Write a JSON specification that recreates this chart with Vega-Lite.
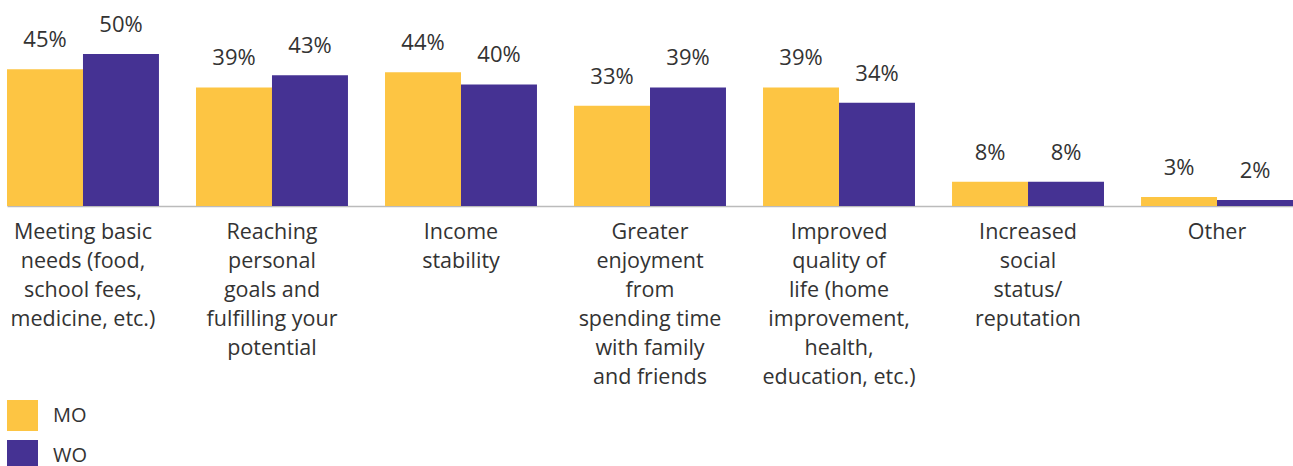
{
  "$schema": "https://vega.github.io/schema/vega-lite/v6.json",
  "autosize": {"type": "none"},
  "width": 1286,
  "height": 152,
  "padding": {"left": 7, "top": 54, "right": 0, "bottom": 260},
  "background": "white",
  "config": {
    "view": {"stroke": null},
    "font": "Open Sans",
    "text": {"font": "Open Sans"}
  },
  "data": {
    "values": [
      {"category": "Meeting basic|needs (food,|school fees,|medicine, etc.)", "group": "MO", "value": 0.45},
      {"category": "Meeting basic|needs (food,|school fees,|medicine, etc.)", "group": "WO", "value": 0.50},
      {"category": "Reaching|personal|goals and|fulfilling your|potential", "group": "MO", "value": 0.39},
      {"category": "Reaching|personal|goals and|fulfilling your|potential", "group": "WO", "value": 0.43},
      {"category": "Income|stability", "group": "MO", "value": 0.44},
      {"category": "Income|stability", "group": "WO", "value": 0.40},
      {"category": "Greater|enjoyment|from|spending time|with family|and friends", "group": "MO", "value": 0.33},
      {"category": "Greater|enjoyment|from|spending time|with family|and friends", "group": "WO", "value": 0.39},
      {"category": "Improved|quality of|life (home|improvement,|health,|education, etc.)", "group": "MO", "value": 0.39},
      {"category": "Improved|quality of|life (home|improvement,|health,|education, etc.)", "group": "WO", "value": 0.34},
      {"category": "Increased|social|status/|reputation", "group": "MO", "value": 0.08},
      {"category": "Increased|social|status/|reputation", "group": "WO", "value": 0.08},
      {"category": "Other", "group": "MO", "value": 0.03},
      {"category": "Other", "group": "WO", "value": 0.02}
    ]
  },
  "encoding": {
    "x": {
      "field": "category",
      "type": "nominal",
      "sort": null,
      "scale": {"paddingInner": 0.196, "paddingOuter": 0},
      "axis": {
        "title": null,
        "labelExpr": "split(datum.value, '|')",
        "labelAngle": 0,
        "labelFontSize": 21.5,
        "labelLineHeight": 29,
        "labelColor": "#333333",
        "labelPadding": 15,
        "labelBaseline": "top",
        "labelLimit": 0,
        "ticks": false,
        "domainColor": "#bbbbbb",
        "domainWidth": 1.5,
        "labelFont": "Open Sans"
      }
    },
    "xOffset": {"field": "group", "type": "nominal", "sort": ["MO", "WO"]},
    "y": {
      "field": "value",
      "type": "quantitative",
      "scale": {"domain": [0, 0.5]},
      "axis": null
    }
  },
  "layer": [
    {
      "mark": {"type": "bar"},
      "encoding": {
        "color": {
          "field": "group",
          "type": "nominal",
          "scale": {"domain": ["MO", "WO"], "range": ["#FDC543", "#453293"]},
          "legend": {
            "title": null,
            "orient": "none",
            "legendX": 0,
            "legendY": 346,
            "padding": 0,
            "symbolType": "square",
            "symbolSize": 961,
            "symbolStrokeWidth": 0,
            "labelFontSize": 20,
            "labelColor": "#333333",
            "labelOffset": 15,
            "rowPadding": 9,
            "labelFont": "Open Sans"
          }
        }
      }
    },
    {
      "mark": {"type": "text", "baseline": "alphabetic", "dy": -22, "fontSize": 22, "color": "#333333"},
      "encoding": {
        "text": {"field": "value", "type": "quantitative", "format": ".0%"},
        "detail": {"field": "group"}
      }
    }
  ]
}
